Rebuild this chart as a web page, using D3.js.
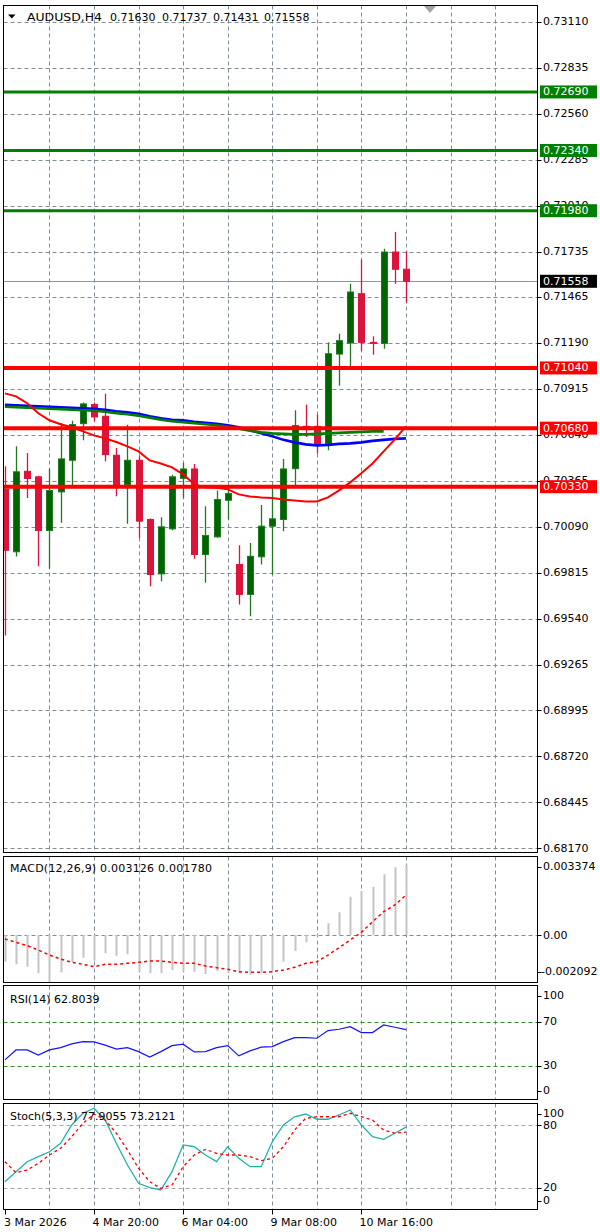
<!DOCTYPE html>
<html><head><meta charset="utf-8">
<script src="https://cdn.jsdelivr.net/npm/d3@7"></script>
<style>
body{margin:0;background:#fff}
svg{display:block}
text{font-family:"DejaVu Sans",sans-serif;font-size:11px;fill:#000}
</style>
</head><body>
<svg id="c" width="600" height="1232"></svg>
<script>
// ---------------- DATA ----------------
const opens  = [0.70313,0.69941,0.70422,0.70389,0.70068,0.70299,0.70488,0.70707,0.70821,0.70751,0.70518,0.70343,0.70488,0.70134,0.69809,0.70078,0.70380,0.70436,0.69925,0.70030,0.70249,0.69865,0.69686,0.69911,0.70094,0.70134,0.70438,0.70691,0.70691,0.70588,0.71123,0.71189,0.71484,0.71193,0.71187,0.71733,0.71630];
const highs  = [0.70452,0.70572,0.70532,0.70396,0.70438,0.70711,0.70725,0.70834,0.70834,0.70886,0.70562,0.70701,0.70512,0.70140,0.70147,0.70402,0.70472,0.70466,0.70213,0.70307,0.70323,0.69980,0.69994,0.70221,0.70337,0.70496,0.70787,0.70821,0.70761,0.71193,0.71245,0.71543,0.71687,0.71229,0.71752,0.71852,0.71737];
const lows   = [0.69441,0.69913,0.70263,0.69855,0.69841,0.70114,0.70333,0.70607,0.70721,0.70482,0.70273,0.70108,0.70024,0.69735,0.69765,0.70070,0.70263,0.69899,0.69756,0.70025,0.70134,0.69626,0.69556,0.69865,0.69805,0.70064,0.70323,0.70628,0.70528,0.70548,0.70934,0.71040,0.71143,0.71119,0.71155,0.71543,0.71431];
const closes = [0.69950,0.70419,0.70379,0.70068,0.70307,0.70496,0.70701,0.70825,0.70747,0.70522,0.70343,0.70488,0.70124,0.69805,0.70090,0.70389,0.70436,0.69925,0.70038,0.70253,0.70289,0.69686,0.69914,0.70094,0.70138,0.70436,0.70695,0.70677,0.70582,0.71125,0.71203,0.71494,0.71193,0.71187,0.71733,0.71630,0.71558];

const maRed   = [0.70888,0.70870,0.70829,0.70769,0.70727,0.70703,0.70685,0.70661,0.70637,0.70619,0.70597,0.70571,0.70541,0.70487,0.70469,0.70446,0.70404,0.70344,0.70326,0.70323,0.70314,0.70284,0.70272,0.70266,0.70263,0.70254,0.70248,0.70242,0.70242,0.70266,0.70308,0.70356,0.70410,0.70469,0.70541,0.70613,0.70691];
const maBlue  = [0.70820,0.70817,0.70814,0.70811,0.70808,0.70805,0.70802,0.70799,0.70796,0.70790,0.70781,0.70775,0.70766,0.70751,0.70739,0.70730,0.70727,0.70718,0.70712,0.70706,0.70697,0.70685,0.70667,0.70649,0.70631,0.70610,0.70595,0.70583,0.70577,0.70580,0.70586,0.70589,0.70595,0.70604,0.70610,0.70616,0.70619];
const maGreen = [0.70808,0.70805,0.70802,0.70799,0.70796,0.70793,0.70790,0.70787,0.70784,0.70778,0.70769,0.70763,0.70754,0.70742,0.70730,0.70721,0.70715,0.70709,0.70703,0.70697,0.70688,0.70676,0.70664,0.70655,0.70649,0.70646,0.70643,0.70643,0.70646,0.70649,0.70652,0.70655,0.70658,0.70661,0.70661];

const macdHist   = [-0.001192,-0.001308,-0.001415,-0.001710,-0.002092,-0.001665,-0.001219,-0.001013,-0.001150,-0.000817,-0.000924,-0.000862,-0.001638,-0.001710,-0.001710,-0.001563,-0.001638,-0.001638,-0.001740,-0.001607,-0.001710,-0.001710,-0.001786,-0.001710,-0.001638,-0.001192,-0.000714,-0.000326,-0.000076,0.000522,0.001013,0.001710,0.001964,0.002156,0.002710,0.003022,0.003126];
const macdSignal = [-0.000179,-0.000326,-0.000478,-0.000670,-0.000893,-0.001071,-0.001219,-0.001308,-0.001415,-0.001308,-0.001308,-0.001263,-0.001219,-0.001161,-0.001161,-0.001219,-0.001263,-0.001263,-0.001384,-0.001460,-0.001531,-0.001638,-0.001665,-0.001665,-0.001638,-0.001563,-0.001442,-0.001263,-0.001192,-0.000893,-0.000567,-0.000223,0.000121,0.000594,0.001040,0.001339,0.001780];

const rsi = [35.4,44.4,44.4,39.7,44.4,46.5,49.9,51.9,51.7,48.7,45.1,46.5,42.9,37.9,42.9,48.3,49.6,42.6,42.9,46.5,48.3,39.0,43.5,46.9,47.4,51.9,55.6,55.6,55.0,61.9,63.1,65.5,60.1,60.1,67.0,64.9,62.8039];

const stochK = [25.7,35.3,44.9,49.7,54.4,62.5,80.0,91.2,96.0,84.8,62.5,41.7,24.2,20.0,17.8,35.3,60.9,59.2,51.3,44.9,59.2,48.1,40.1,40.1,64.0,80.0,87.9,90.5,85.5,85.5,89.6,94.4,80.0,68.8,66.3,72.1,77.9055];
const stochD = [44.9,34.4,36.9,43.3,51.3,57.7,68.8,81.6,90.5,84.8,72.1,56.1,38.6,25.7,19.4,22.6,40.1,51.3,56.7,52.9,51.3,51.3,49.7,45.8,48.1,59.2,75.2,86.4,87.9,87.9,87.9,91.2,87.9,84.8,75.2,72.1,73.2121];

const priceTicks = [0.73110,0.72835,0.72560,0.72285,0.72010,0.71735,0.71465,0.71190,0.70915,0.70640,0.70365,0.70090,0.69815,0.69540,0.69265,0.68995,0.68720,0.68445,0.68170];
const levelsGreen = [0.72690,0.72340,0.71980];
const levelsRed   = [0.71040,0.70680,0.70330];
const lastPrice = 0.71558;
const macdTicks = [0.003374,0,-0.002092];
const macdTickLabels = ["0.003374","0.00","-0.002092"];
const rsiTicks = [100,70,30,0];
const rsiLevels = [70,30];
const stochTicks = [100,80,20,0];
const stochLevels = [80,20];
const dateIdx = [0,8,16,24,32];
const dateLabels = ["3 Mar 2026","4 Mar 20:00","6 Mar 04:00","9 Mar 08:00","10 Mar 16:00"];
const titleParts = ["AUDUSD,H4","0.71630","0.71737","0.71431","0.71558"];
const macdLabel = "MACD(12,26,9) 0.003126 0.001780";
const rsiLabel = "RSI(14) 62.8039";
const stochLabel = "Stoch(5,3,3) 77.9055 73.2121";

// ---------------- LAYOUT ----------------
const svg = d3.select("#c");
const L = 3.5, R = 537.5;
const P = {
  main:  {top:5.5,   bottom:852.5},
  macd:  {top:856.5, bottom:982.5},
  rsi:   {top:985.5, bottom:1099.5},
  stoch: {top:1103.5,bottom:1209.5}
};
const gridColor = "#7f8c99";
const x = d3.scaleLinear().domain([0,44]).range([4.9,495.06]);
const y = d3.scaleLinear().domain([0.68170,0.73110]).range([848,21.7]);
const yM = d3.scaleLinear().domain([-0.002092,0.003374]).range([981.9,859.4]);
const yR = d3.scaleLinear().domain([0,100]).range([1099,988.5]);
const yS = d3.scaleLinear().domain([0,100]).range([1208.6,1104.1]);
const gridIdx = d3.range(4,45,4);
const N = closes.length;
const idx = d3.range(N);

svg.append("rect").attr("width",600).attr("height",1232).attr("fill","#fff");

const defs = svg.append("defs");
Object.entries(P).forEach(([k,p])=>{
  defs.append("clipPath").attr("id","clip-"+k).append("rect")
    .attr("x",L).attr("y",p.top).attr("width",R-L).attr("height",p.bottom-p.top);
});

function vGrid(p){
  svg.append("g").selectAll("line").data(gridIdx).join("line")
    .attr("x1",d=>Math.round(x(d))+0.5).attr("x2",d=>Math.round(x(d))+0.5)
    .attr("y1",p.top).attr("y2",p.bottom)
    .attr("stroke",gridColor).attr("stroke-width",1).attr("stroke-dasharray","4,3");
}
function hLine(g,yy,color,dash,w){
  g.append("line").attr("x1",L).attr("x2",R).attr("y1",yy).attr("y2",yy)
   .attr("stroke",color).attr("stroke-width",w||1).attr("stroke-dasharray",dash||null);
}
function axisLabel(txt,yy,xx){
  svg.append("line").attr("x1",R).attr("x2",R+4).attr("y1",Math.round(yy)+0.5).attr("y2",Math.round(yy)+0.5).attr("stroke","#000");
  svg.append("text").attr("x",xx||543).attr("y",yy).attr("dominant-baseline","central").text(txt);
}

// ---------------- MAIN PANEL ----------------
vGrid(P.main);
const gm = svg.append("g").attr("clip-path","url(#clip-main)");
priceTicks.forEach(t=>hLine(gm,Math.round(y(t))+0.5,gridColor,"4,3",1));
hLine(gm,Math.round(y(lastPrice))+0.5,"#8b96a1",null,1);

const cg = gm.append("g");
const bull = "#006400", bear = "#dc143c";
cg.selectAll("line.w").data(idx).join("line").attr("class","w")
  .attr("x1",i=>Math.round(x(i))+0.5).attr("x2",i=>Math.round(x(i))+0.5)
  .attr("y1",i=>y(highs[i])).attr("y2",i=>y(lows[i]))
  .attr("stroke",i=>closes[i]>=opens[i]?"#1f7a1f":bear).attr("stroke-width",1.3);
cg.selectAll("rect.b").data(idx).join("rect").attr("class","b")
  .attr("x",i=>Math.round(x(i))-2.5).attr("width",6)
  .attr("y",i=>y(Math.max(opens[i],closes[i])))
  .attr("height",i=>Math.max(1,Math.abs(y(opens[i])-y(closes[i]))))
  .attr("fill",i=>closes[i]>=opens[i]?bull:bear)
  .attr("stroke",i=>closes[i]>=opens[i]?"#1f7a1f":bear).attr("stroke-width",1);

const lineP = (arr,sc)=>d3.line().x((d,i)=>x(i)).y(d=>sc(d))(arr);
gm.append("path").attr("d",lineP(maBlue,y)).attr("fill","none").attr("stroke","#0000ff").attr("stroke-width",2.6);
gm.append("path").attr("d",lineP(maGreen,y)).attr("fill","none").attr("stroke","#008000").attr("stroke-width",2.6);
gm.append("path").attr("d",lineP(maRed,y)).attr("fill","none").attr("stroke","#ff0000").attr("stroke-width",2);

levelsGreen.forEach(v=>hLine(gm,y(v),"#008000",null,3));
levelsRed.forEach(v=>hLine(gm,y(v),"#ff0000",null,4));

svg.append("rect").attr("x",L).attr("y",P.main.top).attr("width",R-L).attr("height",P.main.bottom-P.main.top)
  .attr("fill","none").attr("stroke","#000");

priceTicks.forEach(t=>axisLabel(t.toFixed(5),y(t)));
function boxLabel(v,color){
  const yy=y(v);
  svg.append("rect").attr("x",540).attr("y",yy-6.5).attr("width",57).attr("height",13).attr("fill",color);
  svg.append("text").attr("x",543).attr("y",yy).attr("dominant-baseline","central").style("fill","#fff").text(v.toFixed(5));
}
levelsGreen.forEach(v=>boxLabel(v,"#008000"));
levelsRed.forEach(v=>boxLabel(v,"#ff0000"));
boxLabel(lastPrice,"#000");

// title
const tx = [27,110,162,213,264];
titleParts.forEach((s,k)=>{
  const t = svg.append("text").attr("x",tx[k]).attr("y",17).attr("dominant-baseline","central").text(s);
  if(k===0) t.attr("textLength",75).attr("lengthAdjust","spacingAndGlyphs");
});
svg.append("path").attr("d","M8,14.5 L15.5,14.5 L11.75,18.5 Z").attr("fill","#000");
svg.append("path").attr("d","M424,6 L436,6 L430,13 Z").attr("fill","#a3a3a3");

// ---------------- MACD PANEL ----------------
vGrid(P.macd);
const gM = svg.append("g").attr("clip-path","url(#clip-macd)");
hLine(gM,Math.round(yM(0))+0.5,gridColor,"4,3",1);
gM.selectAll("line.h").data(idx).join("line").attr("class","h")
  .attr("x1",i=>Math.round(x(i))+0.5).attr("x2",i=>Math.round(x(i))+0.5)
  .attr("y1",yM(0)).attr("y2",i=>yM(macdHist[i]))
  .attr("stroke","#c4c4c4").attr("stroke-width",2);
gM.append("path").attr("d",lineP(macdSignal,yM)).attr("fill","none")
  .attr("stroke","#ff0000").attr("stroke-width",1.5).attr("stroke-dasharray","3,3");
svg.append("rect").attr("x",L).attr("y",P.macd.top).attr("width",R-L).attr("height",P.macd.bottom-P.macd.top)
  .attr("fill","none").attr("stroke","#000");
macdTicks.forEach((t,k)=>{
  const yy = Math.min(Math.max(yM(t),P.macd.top+10),P.macd.bottom-11);
  axisLabel(macdTickLabels[k],yy,t<0?541:543);
});
svg.append("text").attr("x",10).attr("y",868).attr("dominant-baseline","central")
  .attr("textLength",202).attr("lengthAdjust","spacing").text(macdLabel);

// ---------------- RSI PANEL ----------------
vGrid(P.rsi);
const gR = svg.append("g").attr("clip-path","url(#clip-rsi)");
rsiLevels.forEach(v=>hLine(gR,Math.round(yR(v))+0.5,"#2e8b2e","4,3",1));
gR.append("path").attr("d",lineP(rsi,yR)).attr("fill","none").attr("stroke","#1414ff").attr("stroke-width",1.2);
svg.append("rect").attr("x",L).attr("y",P.rsi.top).attr("width",R-L).attr("height",P.rsi.bottom-P.rsi.top)
  .attr("fill","none").attr("stroke","#000");
rsiTicks.forEach(t=>{
  const yy = Math.min(Math.max(yR(t),P.rsi.top+10),P.rsi.bottom-9);
  axisLabel(String(t),yy);
});
svg.append("text").attr("x",10).attr("y",999).attr("dominant-baseline","central").text(rsiLabel);

// ---------------- STOCH PANEL ----------------
vGrid(P.stoch);
const gS = svg.append("g").attr("clip-path","url(#clip-stoch)");
stochLevels.forEach(v=>hLine(gS,Math.round(yS(v))+0.5,"#a8a8a8","4,3",1));
gS.append("path").attr("d",lineP(stochK,yS)).attr("fill","none").attr("stroke","#20b2aa").attr("stroke-width",1.3);
gS.append("path").attr("d",lineP(stochD,yS)).attr("fill","none").attr("stroke","#ff0000").attr("stroke-width",1.3).attr("stroke-dasharray","3,3");
svg.append("rect").attr("x",L).attr("y",P.stoch.top).attr("width",R-L).attr("height",P.stoch.bottom-P.stoch.top)
  .attr("fill","none").attr("stroke","#000");
stochTicks.forEach(t=>{
  const yy = Math.min(Math.max(yS(t),P.stoch.top+10),P.stoch.bottom-9);
  axisLabel(String(t),yy);
});
svg.append("text").attr("x",10).attr("y",1116).attr("dominant-baseline","central").text(stochLabel);

// ---------------- TIME AXIS ----------------
dateIdx.forEach((d,k)=>{
  const xx = Math.round(x(d))+0.5;
  svg.append("line").attr("x1",xx).attr("x2",xx).attr("y1",P.stoch.bottom).attr("y2",P.stoch.bottom+5).attr("stroke","#000");
  svg.append("text").attr("x",k===0?4:xx-2).attr("y",1222).attr("dominant-baseline","central").text(dateLabels[k]);
});
</script>
</body></html>
